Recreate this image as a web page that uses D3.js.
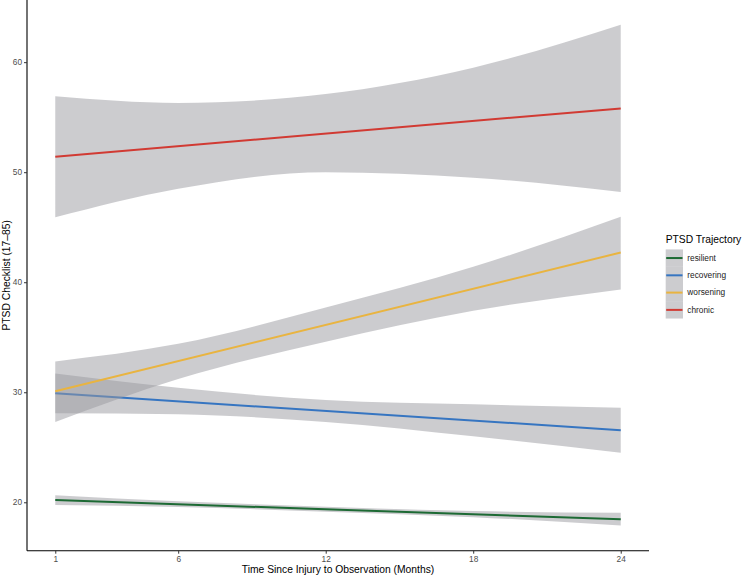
<!DOCTYPE html>
<html>
<head>
<meta charset="utf-8">
<script src="https://cdn.jsdelivr.net/npm/d3@7"></script>
<style>
  body { margin: 0; background: #fff; }
  svg { font-family: "Liberation Sans", Arial, sans-serif; }
</style>
</head>
<body>
<svg width="742" height="576"></svg>
<script>
var svg = d3.select("svg"),
    width = +svg.attr("width"),
    height = +svg.attr("height");

// values
var trajectories = ["resilient", "recovering", "worsening", "chronic"];
var lineColors = ["#1d6a34", "#3675c1", "#e9b440", "#d13a33"];

var fitMonths = [1, 24];
var resilientFit = [20.2, 18.45];
var recoveringFit = [29.9, 26.55];
var worseningFit = [30.1, 42.7];
var chronicFit = [51.4, 55.8];

var bandMonths = [1, 6, 12, 18, 24];
var resilientLo = [19.75, 19.58, 19.15, 18.65, 17.9];
var resilientHi = [20.65, 20.1, 19.6, 19.2, 19.05];
var recoveringLo = [28.1, 28.0, 27.3, 26.0, 24.5];
var recoveringHi = [31.7, 30.4, 29.3, 28.9, 28.6];
var worseningLo = [27.3, 31.2, 34.6, 37.4, 39.35];
var worseningHi = [32.8, 34.4, 37.7, 41.4, 45.95];
var chronicLo = [45.9, 48.5, 50.0, 49.5, 48.2];
var chronicHi = [56.9, 56.3, 57.1, 59.5, 63.4];

var xTicks = [1, 6, 12, 18, 24];
var yTicks = [20, 30, 40, 50, 60];

var fits = [resilientFit, recoveringFit, worseningFit, chronicFit];
var lows = [resilientLo, recoveringLo, worseningLo, chronicLo];
var highs = [resilientHi, recoveringHi, worseningHi, chronicHi];

var panel = {left: 27, right: 649, top: 0, bottom: 550.7};

var x = d3.scaleLinear().domain([-0.15, 25.15]).range([panel.left, panel.right]);
var y = d3.scaleLinear().domain([15.6, 65.65]).range([panel.bottom, panel.top]);

var band = d3.area()
    .x(function(d){ return x(d.m); })
    .y0(function(d){ return y(d.lo); })
    .y1(function(d){ return y(d.hi); })
    .curve(d3.curveMonotoneX);

var line = d3.line()
    .x(function(d){ return x(d.m); })
    .y(function(d){ return y(d.v); });

var plot = svg.append("g");

trajectories.forEach(function(t, i) {
  var bd = bandMonths.map(function(m, j){ return {m: m, lo: lows[i][j], hi: highs[i][j]}; });
  plot.append("path")
      .attr("d", band(bd))
      .attr("fill", "#999aa0")
      .attr("fill-opacity", 0.5);
  var ld = fitMonths.map(function(m, j){ return {m: m, v: fits[i][j]}; });
  plot.append("path")
      .attr("d", line(ld))
      .attr("fill", "none")
      .attr("stroke", lineColors[i])
      .attr("stroke-width", 2);
});

// axes
var xAxis = svg.append("g")
    .attr("transform", "translate(0," + panel.bottom + ")")
    .call(d3.axisBottom(x).tickValues(xTicks).tickSize(3).tickPadding(2).tickSizeOuter(0));
var yAxis = svg.append("g")
    .attr("transform", "translate(" + panel.left + ",0)")
    .call(d3.axisLeft(y).tickValues(yTicks).tickSize(3).tickPadding(2).tickSizeOuter(0));

[xAxis, yAxis].forEach(function(a) {
  a.select(".domain").attr("stroke", "#000").attr("stroke-width", 1.1);
  a.selectAll(".tick line").attr("stroke", "#333");
  a.selectAll(".tick text")
      .attr("fill", "#4d4d4d")
      .attr("font-size", "8.3px")
      .attr("font-family", "Liberation Sans, Arial, sans-serif");
});
// extend axis lines to the full panel
xAxis.select(".domain").attr("d", "M" + panel.left + ",0H" + panel.right);
yAxis.select(".domain").attr("d", "M0," + panel.top + "V" + panel.bottom);

svg.append("text")
    .attr("x", (panel.left + panel.right) / 2)
    .attr("y", 573)
    .attr("text-anchor", "middle")
    .attr("font-size", "10.3px")
    .text("Time Since Injury to Observation (Months)");

svg.append("text")
    .attr("transform", "translate(10," + (panel.top + panel.bottom) / 2 + ") rotate(-90)")
    .attr("text-anchor", "middle")
    .attr("font-size", "10.3px")
    .text("PTSD Checklist (17\u201385)");

// legend
var legend = svg.append("g").attr("transform", "translate(665.7,249.4)");
legend.append("text")
    .attr("x", 0)
    .attr("y", -6)
    .attr("font-size", "10.3px")
    .text("PTSD Trajectory");

var keys = legend.selectAll("g.key")
    .data(trajectories)
    .enter().append("g")
    .attr("class", "key")
    .attr("transform", function(d, i){ return "translate(0," + i * 17.28 + ")"; });

keys.append("rect")
    .attr("width", 17.28)
    .attr("height", 17.28)
    .attr("fill", "#999aa0")
    .attr("fill-opacity", 0.5);

keys.append("line")
    .attr("x1", 0.5).attr("x2", 16.8)
    .attr("y1", 8.64).attr("y2", 8.64)
    .attr("stroke", function(d, i){ return lineColors[i]; })
    .attr("stroke-width", 2);

keys.append("text")
    .attr("x", 21.6)
    .attr("y", 8.64)
    .attr("dy", "0.35em")
    .attr("font-size", "8.3px")
    .attr("fill", "#1a1a1a")
    .text(function(d){ return d; });
</script>
</body>
</html>
